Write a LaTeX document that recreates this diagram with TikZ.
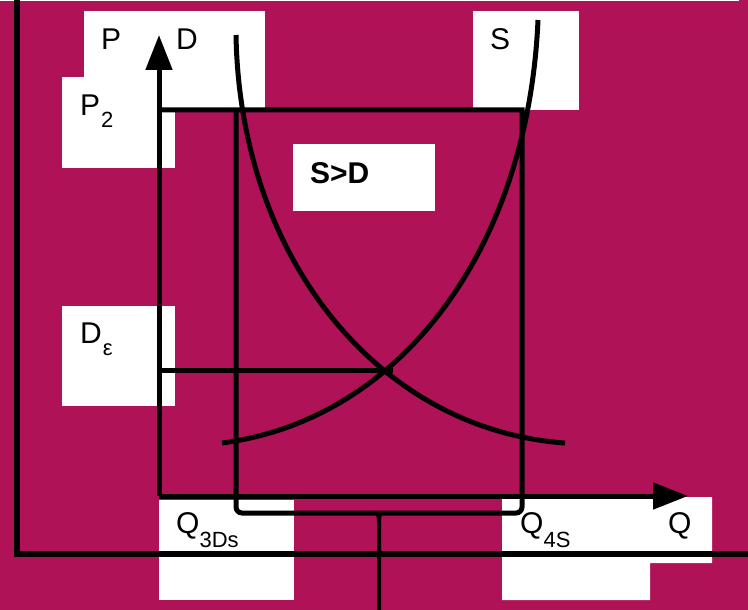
\documentclass[tikz,border=0pt]{standalone}
\usepackage{fontspec}
\setmainfont{Liberation Sans}
\usetikzlibrary{arrows.meta}
\definecolor{bgmag}{RGB}{176,18,88}
\newcommand\lowsub[2][13pt]{\raisebox{-#1}{\fontsize{22}{22}\selectfont #2}}
\tikzset{
  whitebox/.style={fill=white,draw=none},
  lbl/.style={anchor=base west,inner sep=0pt,font=\fontsize{30}{36}\selectfont},
  thick line/.style={line width=5pt,black},
  curve/.style={line width=5pt,black},
  axis tip/.style={-{Triangle[length=35pt,width=26pt]}}
}
\begin{document}
\begin{tikzpicture}[x=1pt,y=-1pt]
\useasboundingbox (0,0) rectangle (748,610);
\fill[bgmag] (0,0) rectangle (748,610);
\fill[white] (0,0) rectangle (739,1.4);

% white boxes
\fill[whitebox] (84,11) rectangle (265,108);
\fill[whitebox] (62,77) rectangle (175,168);
\fill[whitebox] (473,11) rectangle (579,110);
\fill[whitebox] (293,144) rectangle (435,211);
\fill[whitebox] (62,306) rectangle (175,406);
\fill[whitebox] (159,500) rectangle (294,600);
\fill[whitebox] (502,497) -- (712,497) -- (712,563) -- (650,563) -- (650,600) -- (502,600) -- cycle;

% coordinates
\coordinate (O) at (159,496);
\coordinate (Ptip) at (159,35);
\coordinate (Qtip) at (688,496);
\coordinate (TL) at (159,110);
\coordinate (TR) at (522,110);
\coordinate (BL) at (236,513);
\coordinate (BR) at (522,513);
\coordinate (TM) at (236,110);
\coordinate (De) at (159,370);
\coordinate (E) at (393,370);

% frame
\draw[line width=5.5pt,line cap=rect] (17,-3) -- (17,554) -- (752,554);

% axes
\draw[thick line,axis tip] (O) -- (Ptip);
\draw[thick line,axis tip] (O) -- (Qtip);

% rectangle / bracket
\draw[thick line] (TL) -- (TR) -- (522,300) [rounded corners=6pt] -- (BR) -- (BL) -- (236,300) [sharp corners] -- (TM);
\fill[black] (373,511) .. controls (377,513) and (377,518) .. (377.2,530) -- (377.2,612) -- (381,612) -- (381,530) .. controls (381,518) and (381,513) .. (385,511) -- cycle;

% equilibrium line
\draw[thick line] (De) -- (E);

% curves
\draw[curve] (236,35) .. controls (240,260) and (380,430) .. (565,443);
\draw[curve] (538,20) .. controls (528,250) and (400,420) .. (222,443);

% labels
\node[lbl] (lP) at (101,50) {P};
\node[lbl] (lD) at (176,50) {D};
\node[lbl] (lS) at (490,50) {S};
\node[lbl] (lP2) at (80,116) {P\kern1pt\lowsub[12pt]{2}};
\node[lbl,font=\fontsize{30}{36}\selectfont\bfseries] (lSD) at (310,183) {S>D};
\node[lbl] (lDe) at (80,343) {D\kern1pt\lowsub[12pt]{ε}};
\node[lbl] (lQ3) at (176,533) {Q\lowsub[14pt]{3Ds}};
\node[lbl] (lQ4) at (520,533) {Q\lowsub[14pt]{4S}};
\node[lbl] (lQ) at (668,533) {Q};
\end{tikzpicture}
\end{document}
